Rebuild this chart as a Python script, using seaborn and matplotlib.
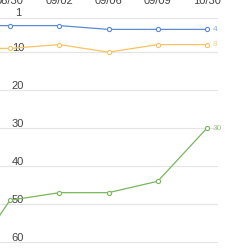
import matplotlib
matplotlib.use("Agg")
import matplotlib.pyplot as plt
import matplotlib.transforms as mtransforms
import pandas as pd
import seaborn as sns

# data (first date lies left of the visible area)
dates = ['08/27', '08/30', '09/02', '09/06', '09/09', '10/30']
blue_vals = [3, 3, 3, 4, 4, 4]
orange_vals = [9, 9, 8, 10, 8, 8]
green_vals = [68, 49, 47, 47, 44, 30]
y_ticks = [1, 10, 20, 30, 40, 50, 60]

series_names = ['blue', 'orange', 'green']
colors = {'blue': '#5b8bd0', 'orange': '#f6c363', 'green': '#79b65e'}

rows = []
for name, vals in zip(series_names, [blue_vals, orange_vals, green_vals]):
    for i, v in enumerate(vals):
        rows.append({'idx': i, 'value': v, 'series': name})
df = pd.DataFrame(rows)

sns.set_style('white')
plt.rcParams['font.family'] = ['Liberation Sans', 'DejaVu Sans']

fig = plt.figure(figsize=(2.5, 2.5), dpi=100)
ax = fig.add_axes([0, 0, 218 / 250, 1])

sns.lineplot(data=df, x='idx', y='value', hue='series', palette=colors,
             marker='o', markersize=3, markerfacecolor='white',
             markeredgewidth=0.8, linewidth=0.9, legend=False, ax=ax)
for line in ax.lines:
    line.set_markeredgecolor(line.get_color())

ax.set_yticks(y_ticks)
ax.set_yticklabels([str(t) for t in y_ticks])
ax.xaxis.tick_top()
ax.set_xticks(range(len(dates)))
ax.set_xticklabels(dates)

# px mapping: 08/30 at x=10, step 49.25; y=1 at 18px, 3.797 px per unit
ax.set_xlim(1 - 10 / 49.25, 1 + 208 / 49.25)
ax.set_ylim(1 + 232 / 3.797, 1 - 18 / 3.797)

ax.yaxis.grid(True, color='#e4e4e4', linewidth=0.8)
ax.xaxis.grid(False)
ax.tick_params(axis='y', length=0, pad=-23, labelsize=8, labelcolor='#444444')
for lab in ax.get_yticklabels():
    lab.set_horizontalalignment('center')
    lab.set_transform(lab.get_transform() + mtransforms.ScaledTranslation(-14 / 100, 5.5 / 100, fig.dpi_scale_trans))
ax.tick_params(axis='x', length=0, pad=-4.5, labelsize=8, labelcolor='#444444')

for sp in ax.spines.values():
    sp.set_visible(False)
ax.set_xlabel('')
ax.set_ylabel('')

last = len(dates) - 1
for name, vals in zip(series_names, [blue_vals, orange_vals, green_vals]):
    ax.annotate(str(vals[last]), (last, vals[last]), xytext=(4, 0),
                textcoords='offset points', va='center', ha='left',
                fontsize=6, color=colors[name], alpha=0.75, annotation_clip=False)

fig.savefig('out.png', dpi=100)
